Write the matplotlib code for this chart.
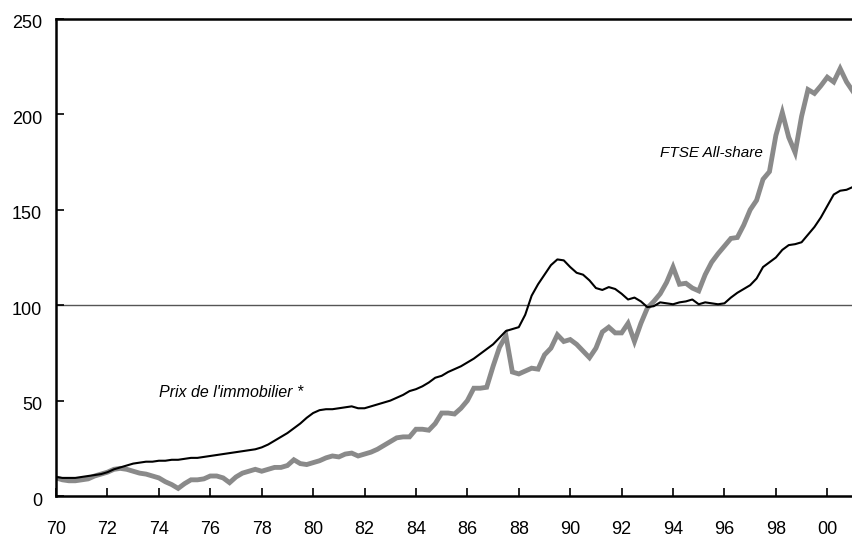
import numpy as np
import matplotlib
matplotlib.use("Agg")
import matplotlib.pyplot as plt
import matplotlib.transforms as mtransforms

# Quarterly data, 1970 Q1 .. 2001 Q1
start_year = 1970
housing = [
    10, 9.5, 9.5, 9.5,
    10, 10.5, 11, 11.5,
    12.5, 14, 15, 16,
    17, 17.5, 18, 18,
    18.5, 18.5, 19, 19,
    19.5, 20, 20, 20.5,
    21, 21.5, 22, 22.5,
    23, 23.5, 24, 24.5,
    25.5, 27, 29, 31,
    33, 35.5, 38, 41,
    43.5, 45, 45.5, 45.5,
    46, 46.5, 47, 46,
    46, 47, 48, 49,
    50, 51.5, 53, 55,
    56, 57.5, 59.5, 62,
    63, 65, 66.5, 68,
    70, 72, 74.5, 77,
    79.5, 83, 86.5, 87.5,
    88.5, 95, 105, 111,
    116, 121, 124, 123.5,
    120, 117, 116, 113,
    109, 108, 109.5, 108.5,
    106, 103, 104, 102,
    99, 99.5, 101.5, 101,
    100.5, 101.5, 102, 103,
    100.5, 101.5, 101, 100.5,
    101, 104, 106.5, 108.5,
    110.5, 114, 120, 122.5,
    125, 129, 131.5, 132,
    133, 137, 141, 146,
    152, 158, 160, 160.5,
    162,
]
ftse = [
    9.5, 8.5, 8, 8,
    8.5, 9, 10.5, 11.5,
    12.5, 14, 14.5, 14,
    13, 12, 11.5, 10.5,
    9.5, 7.5, 6, 4,
    6.5, 8.5, 8.5, 9,
    10.5, 10.5, 9.5, 7,
    10, 12, 13, 14,
    13, 14, 15, 15,
    16, 19, 17, 16.5,
    17.5, 18.5, 20, 21,
    20.5, 22, 22.5, 21,
    22, 23, 24.5, 26.5,
    28.5, 30.5, 31, 31,
    35, 35, 34.5, 38,
    43.5, 43.5, 43, 46,
    50, 56.5, 56.5, 57,
    68, 78, 84, 65,
    64, 65.5, 67, 66.5,
    74, 77.5, 84.5, 81,
    82, 79.5, 76, 72.5,
    77.5, 86, 88.5, 85.5,
    85.5, 90.5, 81, 90.5,
    98.5, 102, 106, 112,
    120, 111, 111.5, 109,
    107.5, 116, 122.5, 127,
    131, 135, 135.5, 142,
    150, 155, 166, 170,
    189, 201, 188, 180,
    199, 213, 211, 215,
    219.5, 217, 224, 217,
    212,
]
x_ticks = list(range(1970, 2001, 2))
x_tick_labels = ["%02d" % (y % 100) for y in x_ticks]
y_ticks = [0, 50, 100, 150, 200, 250]
label_housing = "Prix de l'immobilier *"
label_ftse = "FTSE All-share"

plt.rcParams["font.family"] = ["Liberation Sans", "DejaVu Sans"]

t = start_year + np.arange(len(housing)) * 0.25

fig = plt.figure(figsize=(8.53, 5.38), dpi=100)
ax = fig.add_axes([0.0657, 0.078, 0.9343, 0.8867])

ax.axhline(100, color="#555555", lw=1.0, zorder=1)
ax.plot(t, ftse, color="#8a8a8a", lw=3.5, solid_joinstyle="miter", zorder=2)
ax.plot(t, housing, color="black", lw=1.5, zorder=3)

ax.set_xlim(1970, 2001)
ax.set_ylim(0, 250)
ax.set_xticks(x_ticks)
ax.set_xticklabels(x_tick_labels)
ax.set_yticks(y_ticks)

for s in ["left", "bottom", "top"]:
    ax.spines[s].set_linewidth(1.8)
    ax.spines[s].set_color("black")
ax.spines["right"].set_visible(False)

ax.tick_params(axis="both", direction="in", length=6, width=1.2,
               labelsize=13, colors="black")
ax.tick_params(axis="x", pad=18)
ax.tick_params(axis="y", pad=10)

offset = mtransforms.ScaledTranslation(0, -3 / 100.0, fig.dpi_scale_trans)
for lab in ax.get_yticklabels():
    lab.set_transform(lab.get_transform() + offset)

ax.text(1974.0, 54.0, label_housing, style="italic", fontsize=11.5,
        ha="left", va="center")
ax.text(1993.5, 179.8, label_ftse, style="italic", fontsize=11,
        ha="left", va="center")

fig.savefig("out.png", dpi=100)
